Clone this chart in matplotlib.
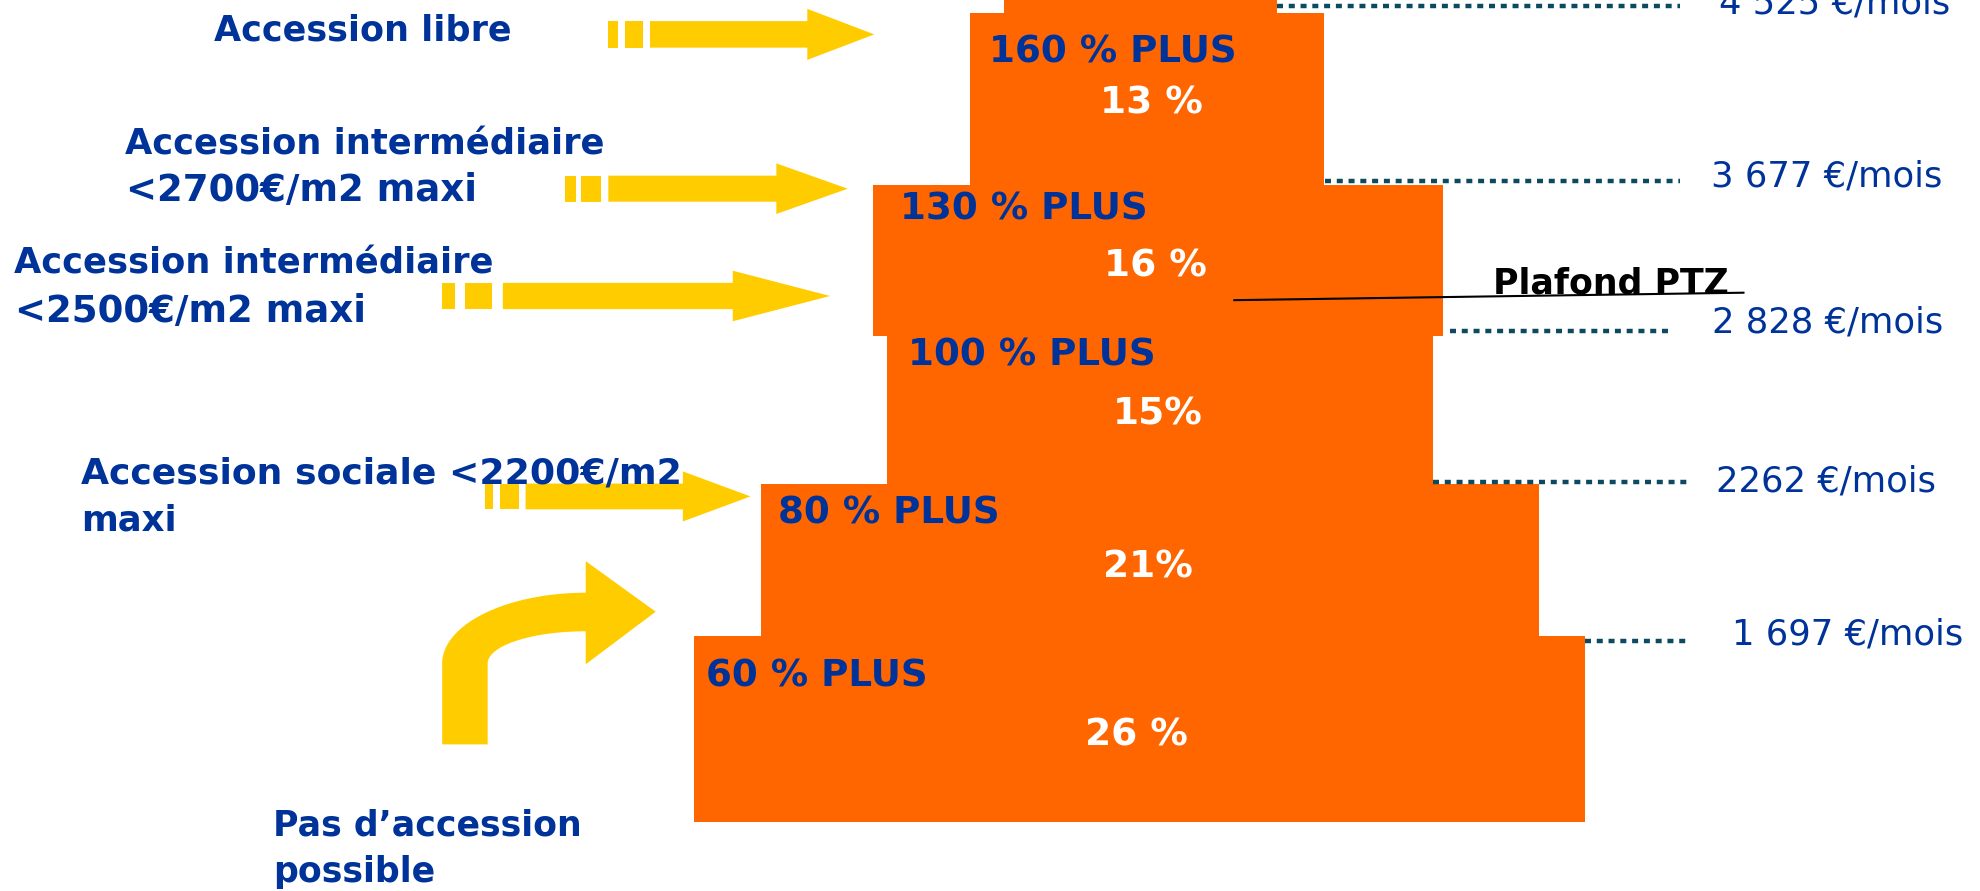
import numpy as np
import matplotlib
matplotlib.use("Agg")
import matplotlib.pyplot as plt
from matplotlib.patches import Polygon

# ---------------- data ----------------
tiers = ["160 % PLUS", "130 % PLUS", "100 % PLUS", "80 % PLUS", "60 % PLUS"]
shares = ["13 %", "16 %", "15%", "21%", "26 %"]
thresholds = ["4 525 €/mois", "3 677 €/mois", "2 828 €/mois", "2262 €/mois", "1 697 €/mois"]
access_lines = [
    ["Accession libre"],
    ["Accession intermédiaire", "<2700€/m2 maxi"],
    ["Accession intermédiaire", "<2500€/m2 maxi"],
    ["Accession sociale <2200€/m2", "maxi"],
    ["Pas d\u2019accession", "possible"],
]
ptz_label = "Plafond PTZ"

# ---------------- layout (canvas units) ----------------
W, H = 1568, 705
ORANGE = "#FF6600"
YELLOW = "#FFCC00"
BLUE = "#003399"
TEAL = "#0B4A61"

# pyramid blocks: (left, right, top, bottom)
top_block = (795, 1011, -5, 10.5)
blk_left = [768, 691, 702, 602, 549]
blk_right = [1048, 1142.5, 1134, 1218, 1254.5]
blk_top = [10, 146.4, 265.7, 383, 503.4]
blk_bot = [146.4, 265.7, 383, 503.4, 650.4]

tier_pos = [(783, 49.3), (712.4, 174), (718.6, 289.4), (616, 414), (559, 543.5)]
share_pos = [(870.7, 90), (873.5, 218.5), (881, 335.6), (873, 457), (859, 589.7)]

dot_x0 = [1011, 1049, 1148, 1134, 1254.5]
dot_x1 = [1330, 1330, 1321.5, 1335.5, 1335.5]
dot_y = [4.7, 143, 261.7, 381.3, 507]
thr_pos = [(1361, 11), (1354, 147.7), (1355, 263.3), (1358.6, 389), (1370.7, 510)]

label_pos = [
    [(169, 31.7)],
    [(99, 121.9), (100, 159)],
    [(11.4, 216.3), (12, 254.6)],
    [(63.8, 382.6), (64.5, 419.5)],
    [(215.8, 661), (215.8, 697.9)],
]
label_size = [
    [25.2],
    [25.4, 26.7],
    [25.4, 26.7],
    [26.1, 25.5],
    [25.0, 25.0],
]

# straight arrows: dashes, body x-range, y-center, half body, half head, tip
arrows = [
    dict(d=[(481, 489), (495, 509)], b=(514.5, 639), yc=27.2, hb=10.5, hh=20.2, tip=692),
    dict(d=[(447, 456), (460, 476)], b=(481.5, 614.5), yc=149.3, hb=10.3, hh=20.0, tip=671),
    dict(d=[(350, 360), (368, 389.5)], b=(398, 580), yc=234.2, hb=10.4, hh=20.0, tip=657),
    dict(d=[(383.5, 390.5), (396, 410.5)], b=(416, 540.5), yc=392.8, hb=10.2, hh=19.8, tip=594),
]

# ---------------- figure ----------------
fig = plt.figure(figsize=(19.81, 8.91), dpi=100)
ax = fig.add_axes([0, 0, 1, 1])
ax.set_xlim(0, W)
ax.set_ylim(H, 0)
ax.axis("off")

# blocks
ax.bar(top_block[0], top_block[3] - top_block[2], width=top_block[1] - top_block[0],
       bottom=top_block[2], align="edge", color=ORANGE, linewidth=0, zorder=2)
for l, r, t, b in zip(blk_left, blk_right, blk_top, blk_bot):
    ax.bar(l, b - t, width=r - l, bottom=t, align="edge", color=ORANGE, linewidth=0, zorder=2)

# tier labels & shares
for txt, (x, y) in zip(tiers, tier_pos):
    ax.text(x, y, txt, color=BLUE, fontsize=26.8, fontweight="bold",
            family="DejaVu Sans", ha="left", va="baseline", zorder=4)
for txt, (x, y) in zip(shares, share_pos):
    ax.text(x, y, txt, color="white", fontsize=27, fontweight="bold",
            family="DejaVu Sans", ha="left", va="baseline", zorder=4)

# dotted threshold lines & labels
for x0, x1, y, txt, (tx, ty) in zip(dot_x0, dot_x1, dot_y, thresholds, thr_pos):
    ax.plot([x0, x1], [y, y], color=TEAL, lw=3.2, linestyle=(0, (1.35, 1.3)),
            dash_capstyle="butt", solid_capstyle="butt", zorder=3)
    ax.text(tx, ty, txt, color=BLUE, fontsize=25.5, family="DejaVu Sans",
            ha="left", va="baseline", zorder=4)

# Plafond PTZ
ax.plot([977, 1380], [237.5, 231.6], color="black", lw=1.5, zorder=5)
ax.text(1182, 232, ptz_label, color="black", fontsize=25, fontweight="bold",
        family="DejaVu Sans", ha="left", va="baseline", zorder=5)

# left labels
for lines, poss, sizes in zip(access_lines, label_pos, label_size):
    for txt, (x, y), s in zip(lines, poss, sizes):
        ax.text(x, y, txt, color=BLUE, fontsize=s, fontweight="bold",
                family="DejaVu Sans", ha="left", va="baseline", zorder=4)

# straight arrows
for a in arrows:
    yc, hb, hh = a["yc"], a["hb"], a["hh"]
    for x0, x1 in a["d"]:
        ax.add_patch(Polygon([(x0, yc - hb), (x1, yc - hb), (x1, yc + hb), (x0, yc + hb)],
                             closed=True, facecolor=YELLOW, edgecolor="none", zorder=3))
    bx0, bx1 = a["b"]
    ax.add_patch(Polygon([(bx0, yc - hb), (bx1, yc - hb), (bx1, yc - hh), (a["tip"], yc),
                          (bx1, yc + hh), (bx1, yc + hb), (bx0, yc + hb)],
                         closed=True, facecolor=YELLOW, edgecolor="none", zorder=3))

# curved arrow
cx, cy = 463.6, 525.0
orx, ory = 113.6, 56.0
irx, iry = 77.6, 25.5
t = np.linspace(0, np.pi / 2, 60)
outer = np.column_stack([cx - orx * np.cos(t), cy - ory * np.sin(t)])
inner = np.column_stack([cx - irx * np.cos(t), cy - iry * np.sin(t)])[::-1]
pts = [(350, 589)] + [tuple(p) for p in outer] + [(cx, 444), (519, 484), (cx, 525.6)] \
      + [tuple(p) for p in inner] + [(386, 589)]
ax.add_patch(Polygon(pts, closed=True, facecolor=YELLOW, edgecolor="none", zorder=3))

fig.savefig("out.png", dpi=100, facecolor="white")
